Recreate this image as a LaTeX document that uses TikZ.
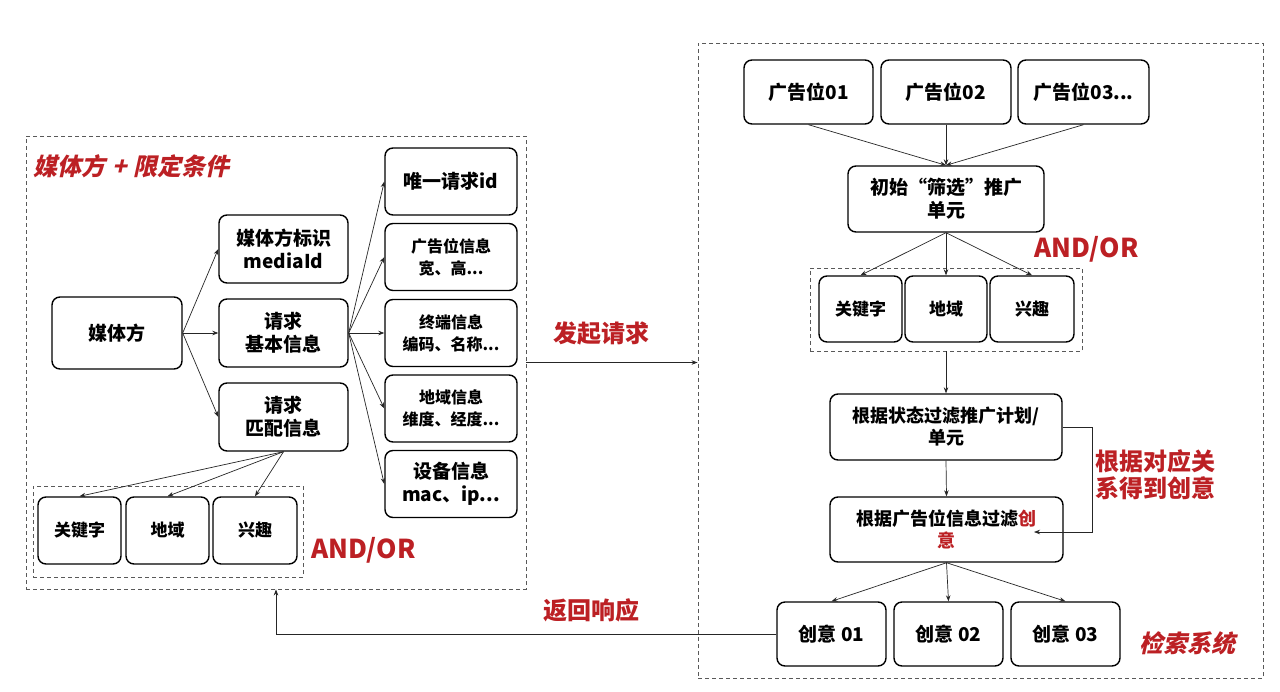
\documentclass[tikz,border=0pt]{standalone}
\usepackage{fontspec}
\setmainfont{Noto Sans CJK SC}
\newfontfamily\slfont{Noto Sans CJK SC}[FakeSlant=0.22]
\usetikzlibrary{arrows.meta}
\definecolor{myred}{RGB}{188,32,36}
\begin{document}
\begin{tikzpicture}[x=1pt,y=-1pt,
  bx/.style={draw=black, line width=1.4pt, rounded corners=8pt, align=center, inner sep=0pt,
    font=\bfseries\fontsize{19}{23}\selectfont},
  sm/.style={font=\bfseries\fontsize{16}{22}\selectfont},
  dbox/.style={draw=black!65, dashed, dash pattern=on 4pt off 3pt, line width=0.9pt, inner sep=0pt},
  conn/.style={draw=black!85, line width=0.7pt, -{Stealth[length=6pt,width=4.5pt]}},
  lbl/.style={text=myred, inner sep=0pt, font=\bfseries\fontsize{24}{27}\selectfont},
  lbli/.style={text=myred, inner sep=0pt, font=\slfont\bfseries\fontsize{24}{27}\selectfont},
]
\fill[white] (0,0) rectangle (1280,691);
\useasboundingbox (0,0) rectangle (1280,691);

% ---------- left panel ----------
\node[dbox, minimum width=500pt, minimum height=453pt] (L) at (276,362.5) {};
\node[lbli, anchor=west] (ttl) at (33,166) {媒体方\hspace{7pt}+\hspace{7pt}限定条件};

\node[bx, minimum width=130pt, minimum height=72pt] (mt) at (117,333) {媒体方};
\node[bx, minimum width=129pt, minimum height=68pt] (mb) at (283.5,249) {媒体方标识\\mediaId};
\node[bx, minimum width=129pt, minimum height=68pt] (jb) at (283.5,333) {请求\\基本信息};
\node[bx, minimum width=129pt, minimum height=68pt] (pm) at (283.5,417) {请求\\匹配信息};

\node[bx, minimum width=132pt, minimum height=67pt] (r1) at (451,181.5) {唯一请求id};
\node[bx, sm, minimum width=132pt, minimum height=67pt] (r2) at (451,257) {广告位信息\\宽、高...};
\node[bx, sm, minimum width=132pt, minimum height=67pt] (r3) at (451,333) {终端信息\\编码、名称...};
\node[bx, sm, minimum width=132pt, minimum height=67pt] (r4) at (451,408.5) {地域信息\\维度、经度...};
\node[bx, minimum width=132pt, minimum height=67pt] (r5) at (451,484) {设备信息\\mac、ip...};

\node[dbox, minimum width=270pt, minimum height=91pt] (L2) at (168,531.5) {};
\node[bx, font=\bfseries\fontsize{17}{21}\selectfont, minimum width=83pt, minimum height=67pt] (kw1) at (79.5,530.5) {关键字};
\node[bx, font=\bfseries\fontsize{17}{21}\selectfont, minimum width=83pt, minimum height=67pt] (dy1) at (167.5,530.5) {地域};
\node[bx, font=\bfseries\fontsize{17}{21}\selectfont, minimum width=84pt, minimum height=67pt] (xq1) at (255,530.5) {兴趣};
\node[lbl, font=\bfseries\fontsize{26}{30}\selectfont, anchor=west] (ao1) at (311,550) {AND/OR};

\foreach \t in {mb,jb,pm} \draw[conn] (mt.east) -- (\t.west);
\foreach \t in {r1,r2,r3,r4,r5} \draw[conn] (jb.east) -- (\t.west);
\foreach \t in {kw1,dy1,xq1} \draw[conn] (pm.south) -- (\t.north);

% ---------- right panel ----------
\node[dbox, minimum width=565pt, minimum height=635pt] (R) at (980.5,360.5) {};

\node[bx, minimum width=129pt, minimum height=64pt] (a1) at (808.5,92) {广告位01};
\node[bx, minimum width=130pt, minimum height=64pt] (a2) at (946,92) {广告位02};
\node[bx, minimum width=131pt, minimum height=64pt] (a3) at (1083.5,92) {广告位03...};

\node[bx, minimum width=196pt, minimum height=66pt] (cs) at (946,199) {初始“筛选”推广\\单元};
\node[lbl, font=\bfseries\fontsize{26}{30}\selectfont, anchor=west] (ao2) at (1034,249) {AND/OR};

\node[dbox, minimum width=272pt, minimum height=83pt] (R2) at (946,309.5) {};
\node[bx, font=\bfseries\fontsize{17}{21}\selectfont, minimum width=83pt, minimum height=66pt] (kw2) at (860.5,309) {关键字};
\node[bx, font=\bfseries\fontsize{17}{21}\selectfont, minimum width=82pt, minimum height=66pt] (dy2) at (946,309) {地域};
\node[bx, font=\bfseries\fontsize{17}{21}\selectfont, minimum width=84pt, minimum height=66pt] (xq2) at (1032,309) {兴趣};

\node[bx, font=\bfseries\fontsize{18}{22}\selectfont, minimum width=232pt, minimum height=66pt] (zt) at (946,427) {根据状态过滤推广计划/\\单元};
\node[bx, font=\bfseries\fontsize{18}{22}\selectfont, minimum width=233pt, minimum height=65pt] (gg) at (946.5,529.5) {根据广告位信息过滤\textcolor{myred}{创}\\\textcolor{myred}{意}};

\node[bx, minimum width=109pt, minimum height=64pt] (c1) at (831.5,634) {创意 01};
\node[bx, minimum width=109pt, minimum height=64pt] (c2) at (948.5,634) {创意 02};
\node[bx, minimum width=109pt, minimum height=64pt] (c3) at (1065.5,634) {创意 03};

\node[lbl, align=left, anchor=west] (rel) at (1095,475) {根据对应关\\系得到创意};
\node[lbli, anchor=west] (jsxt) at (1139,643) {检索系统};

\foreach \s in {a1,a2,a3} \draw[conn] (\s.south) -- (cs.north);
\foreach \t in {kw2,dy2,xq2} \draw[conn] (cs.south) -- (\t.north);
\draw[conn] (R2.south) -- (zt.north);
\draw[conn] (zt.south) -- (gg.north);
\foreach \t in {c1,c2,c3} \draw[conn] (gg.south) -- (\t.north);
\coordinate (tgt) at (1034,532);
\draw[conn] (zt.east) -- ++(30,0) |- (tgt);

% ---------- between panels ----------
\draw[conn] (L.east) -- (L.east -| R.west);
\node[lbl] (fq) at (601,333) {发起请求};
\draw[conn] (c1.west) -| (L.south);
\node[lbl] (fh) at (591,610) {返回响应};
\end{tikzpicture}
\end{document}
